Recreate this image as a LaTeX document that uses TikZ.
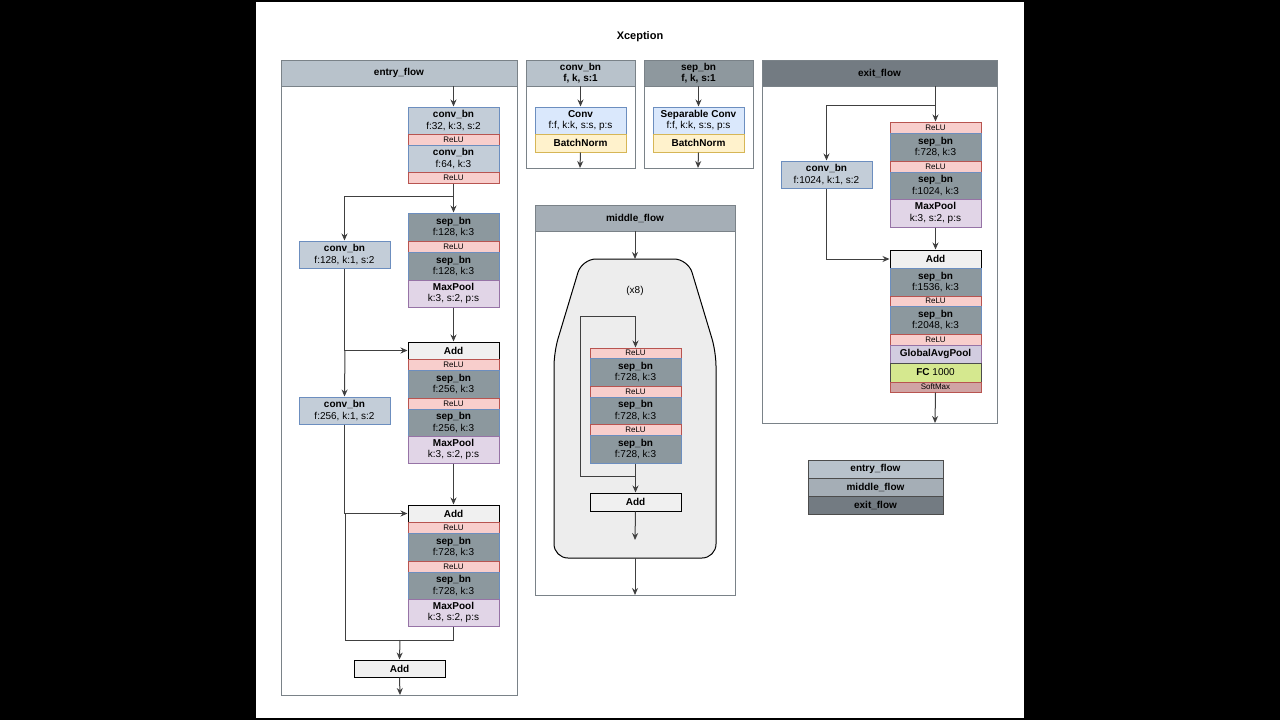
\documentclass[tikz,border=0pt]{standalone}
\usepackage{fontspec}
\setmainfont{Liberation Sans}
\usetikzlibrary{arrows.meta}
\definecolor{cbf}{HTML}{C3CDD8}\definecolor{cbd}{HTML}{6C8EBF}
\definecolor{sbf}{HTML}{8C989E}
\definecolor{rlf}{HTML}{F8CECC}\definecolor{rld}{HTML}{B85450}
\definecolor{mpf}{HTML}{E1D5E7}\definecolor{mpd}{HTML}{9673A6}
\definecolor{cvf}{HTML}{DAE8FC}\definecolor{bnf}{HTML}{FFF2CC}\definecolor{bnd}{HTML}{D6B656}
\definecolor{fcf}{HTML}{D5E88F}\definecolor{smf}{HTML}{D0A4A4}\definecolor{gpf}{HTML}{D2CCE0}
\definecolor{h1}{HTML}{B8C2CB}\definecolor{h2}{HTML}{A5AEB6}\definecolor{h3}{HTML}{8E989E}\definecolor{h4}{HTML}{737B82}
\definecolor{pand}{HTML}{7A8288}
\tikzset{
 blk/.style={draw,line width=1pt,inner sep=0pt,align=center,font=\fontsize{10}{11.5}\selectfont},
 cb/.style={blk,fill=cbf,draw=cbd},
 sb/.style={blk,fill=sbf,draw=cbd},
 rl/.style={blk,fill=rlf,draw=rld,font=\fontsize{8}{9}\selectfont},
 mp/.style={blk,fill=mpf,draw=mpd},
 ad/.style={blk,fill=black!6,draw=black},
 cv/.style={blk,fill=cvf,draw=cbd},
 bn/.style={blk,fill=bnf,draw=bnd},
 fc/.style={blk,fill=fcf,draw=black!70},
 sm/.style={blk,fill=smf,draw=rld,font=\fontsize{8}{9}\selectfont},
 gp/.style={blk,fill=gpf,draw=mpd},
 pan/.style={draw=pand,line width=0.8pt,fill=white},
 hd/.style={blk,draw=pand,line width=0.8pt},
 ar/.style={draw=black!75,line width=1pt,-{Stealth[length=7pt,width=6pt]}},
 ln/.style={draw=black!75,line width=1pt},
}
\newcommand{\B}[7]{\node[#2,minimum width={(#5-#3)*1pt},minimum height={(#6-#4)*1pt}] (#1) at ({(#3+#5)/2},{(#4+#6)/2}) {#7};}
\newcommand{\T}[2]{\textbf{#1}\\#2}
\begin{document}
\begin{tikzpicture}[x=1pt,y=-1pt]
\fill[black] (0,0) rectangle (1280,720);
\fill[white] (256,2) rectangle (1024,718);
\useasboundingbox (0,0) rectangle (1280,720);
\node[font=\fontsize{11}{13}\selectfont\bfseries] (title) at (640,37) {Xception};
% entry flow
\draw[pan] (281,60) rectangle (517,695);
\B{eh}{hd,fill=h1}{281}{60}{517}{86}{\textbf{entry\_flow}}
\B{e1}{cb}{408}{107}{499}{134}{\T{conv\_bn}{f:32, k:3, s:2}}
\B{e2}{rl}{408}{134}{499}{145}{ReLU}
\B{e3}{cb}{408}{145}{499}{172}{\T{conv\_bn}{f:64, k:3}}
\B{e4}{rl}{408}{172}{499}{183}{ReLU}
\B{e5}{sb}{408}{213}{499}{241}{\T{sep\_bn}{f:128, k:3}}
\B{e6}{rl}{408}{241}{499}{252}{ReLU}
\B{e7}{sb}{408}{252}{499}{280}{\T{sep\_bn}{f:128, k:3}}
\B{e8}{mp}{408}{280}{499}{307}{\T{MaxPool}{k:3, s:2, p:s}}
\B{ec1}{cb}{299}{241}{390}{268}{\T{conv\_bn}{f:128, k:1, s:2}}
\B{e9}{ad}{408}{342}{499}{359}{\textbf{Add}}
\B{e10}{rl}{408}{359}{499}{370}{ReLU}
\B{e11}{sb}{408}{370}{499}{398}{\T{sep\_bn}{f:256, k:3}}
\B{e12}{rl}{408}{398}{499}{409}{ReLU}
\B{e13}{sb}{408}{409}{499}{436}{\T{sep\_bn}{f:256, k:3}}
\B{e14}{mp}{408}{436}{499}{463}{\T{MaxPool}{k:3, s:2, p:s}}
\B{ec2}{cb}{299}{397}{390}{424}{\T{conv\_bn}{f:256, k:1, s:2}}
\B{e15}{ad}{408}{505}{499}{522}{\textbf{Add}}
\B{e16}{rl}{408}{522}{499}{533}{ReLU}
\B{e17}{sb}{408}{533}{499}{561}{\T{sep\_bn}{f:728, k:3}}
\B{e18}{rl}{408}{561}{499}{572}{ReLU}
\B{e19}{sb}{408}{572}{499}{599}{\T{sep\_bn}{f:728, k:3}}
\B{e20}{mp}{408}{599}{499}{626}{\T{MaxPool}{k:3, s:2, p:s}}
\B{e21}{ad}{354}{660}{445}{677}{\textbf{Add}}
\coordinate (ej1) at (454,196);
\coordinate (ej2) at (345,350);
\coordinate (ej3) at (345,514);
\coordinate (ej4) at (400,640);
\coordinate (eout) at (400,695);
\draw[ar] (eh.south-|e1) -- (e1);
\draw[ar] (e4.south) -- (e5.north);
\draw[ar] (ej1) -| (ec1.north);
\draw[ar] (ec1.south) |- (e9.west);
\draw[ar] (e8.south) -- (e9.north);
\draw[ar] (ej2) -- (ec2.north);
\draw[ar] (ec2.south) |- (e15.west);
\draw[ar] (e14.south-|e15) -- (e15.north);
\draw[ln] (ej3) |- (ej4);
\draw[ln] (e20.south) |- (ej4);
\draw[ar] (ej4) -- (e21.north);
\draw[ar] (e21.south) -- (eout);
% conv_bn legend
\draw[pan] (526,60) rectangle (635,168);
\B{ch}{hd,fill=h1}{526}{60}{635}{86}{\textbf{conv\_bn}\\\textbf{f, k, s:1}}
\B{c1}{cv}{535}{107}{626}{134}{\T{Conv}{f:f, k:k, s:s, p:s}}
\B{c2}{bn}{535}{134}{626}{152}{\textbf{BatchNorm}}
\coordinate (cout) at (580,168);
\draw[ar] (ch.south) -- (c1.north);
\draw[ar] (c2.south) -- (cout);
\draw[pan] (644,60) rectangle (753,168);
\B{sh}{hd,fill=h3}{644}{60}{753}{86}{\textbf{sep\_bn}\\\textbf{f, k, s:1}}
\B{s1}{cv}{653}{107}{744}{134}{\T{Separable Conv}{f:f, k:k, s:s, p:s}}
\B{s2}{bn}{653}{134}{744}{152}{\textbf{BatchNorm}}
\coordinate (sout) at (698,168);
\draw[ar] (sh.south) -- (s1.north);
\draw[ar] (s2.south) -- (sout);
% middle flow
\draw[pan] (535,205) rectangle (735,595);
\B{mh}{hd,fill=h2}{535}{205}{735}{231}{\textbf{middle\_flow}}
\draw[draw=black,line width=1pt,fill=black!7,rounded corners=14pt] (582,259) -- (688,259) -- (716,352) -- (716,558) -- (554,558) -- (554,352) -- cycle;
\coordinate (mtop) at (635,259);
\draw[ar] (mh.south) -- (mtop);
\node[font=\fontsize{10}{12}\selectfont] (x8) at (635,291) {(x8)};
\B{m1}{rl}{590}{348}{681}{358}{ReLU}
\B{m2}{sb}{590}{358}{681}{386}{\T{sep\_bn}{f:728, k:3}}
\B{m3}{rl}{590}{386}{681}{397}{ReLU}
\B{m4}{sb}{590}{397}{681}{424}{\T{sep\_bn}{f:728, k:3}}
\B{m5}{rl}{590}{424}{681}{435}{ReLU}
\B{m6}{sb}{590}{435}{681}{463}{\T{sep\_bn}{f:728, k:3}}
\B{m7}{ad}{590}{493}{681}{511}{\textbf{Add}}
\coordinate (ml1) at (635,476);
\coordinate (ml2) at (580,316);
\coordinate (mout) at (635,540);
\coordinate (mbot) at (635,558);
\coordinate (mend) at (635,595);
\draw[ln] (ml1) -| (ml2);
\draw[ar] (ml2) -| (m1.north);
\draw[ar] (m6.south) -- (m7.north);
\draw[ar] (m7.south) -- (mout);
\draw[ar] (mbot) -- (mend);
% exit flow
\draw[pan] (762,60) rectangle (997,423);
\B{xh}{hd,fill=h4}{762}{60}{997}{86}{\textbf{exit\_flow}}
\B{x1}{rl}{890}{122}{981}{133}{ReLU}
\B{x2}{sb}{890}{133}{981}{161}{\T{sep\_bn}{f:728, k:3}}
\B{x3}{rl}{890}{161}{981}{172}{ReLU}
\B{x4}{sb}{890}{172}{981}{199}{\T{sep\_bn}{f:1024, k:3}}
\B{x5}{mp}{890}{199}{981}{227}{\T{MaxPool}{k:3, s:2, p:s}}
\B{xc}{cb}{781}{161}{872}{188}{\T{conv\_bn}{f:1024, k:1, s:2}}
\B{x6}{ad}{890}{250}{981}{268}{\textbf{Add}}
\B{x7}{sb}{890}{268}{981}{296}{\T{sep\_bn}{f:1536, k:3}}
\B{x8}{rl}{890}{296}{981}{306}{ReLU}
\B{x9}{sb}{890}{306}{981}{334}{\T{sep\_bn}{f:2048, k:3}}
\B{x10}{rl}{890}{334}{981}{345}{ReLU}
\B{x11}{gp}{890}{345}{981}{363}{\textbf{GlobalAvgPool}}
\B{x12}{fc}{890}{363}{981}{382}{\textbf{FC} 1000}
\B{x13}{sm}{890}{382}{981}{392}{SoftMax}
\coordinate (xj) at (935,105);
\coordinate (xout) at (935,423);
\draw[ar] (xh.south-|x1) -- (x1.north);
\draw[ar] (xj) -| (xc.north);
\draw[ar] (xc.south) |- (x6.west);
\draw[ar] (x5.south) -- (x6.north);
\draw[ar] (x13.south) -- (xout);
% legend
\B{l1}{hd,fill=h1,draw=black!70}{808}{460}{943}{478}{\textbf{entry\_flow}}
\B{l2}{hd,fill=h2,draw=black!70}{808}{478}{943}{496}{\textbf{middle\_flow}}
\B{l3}{hd,fill=h4,draw=black!70}{808}{496}{943}{514}{\textbf{exit\_flow}}
\end{tikzpicture}
\end{document}
